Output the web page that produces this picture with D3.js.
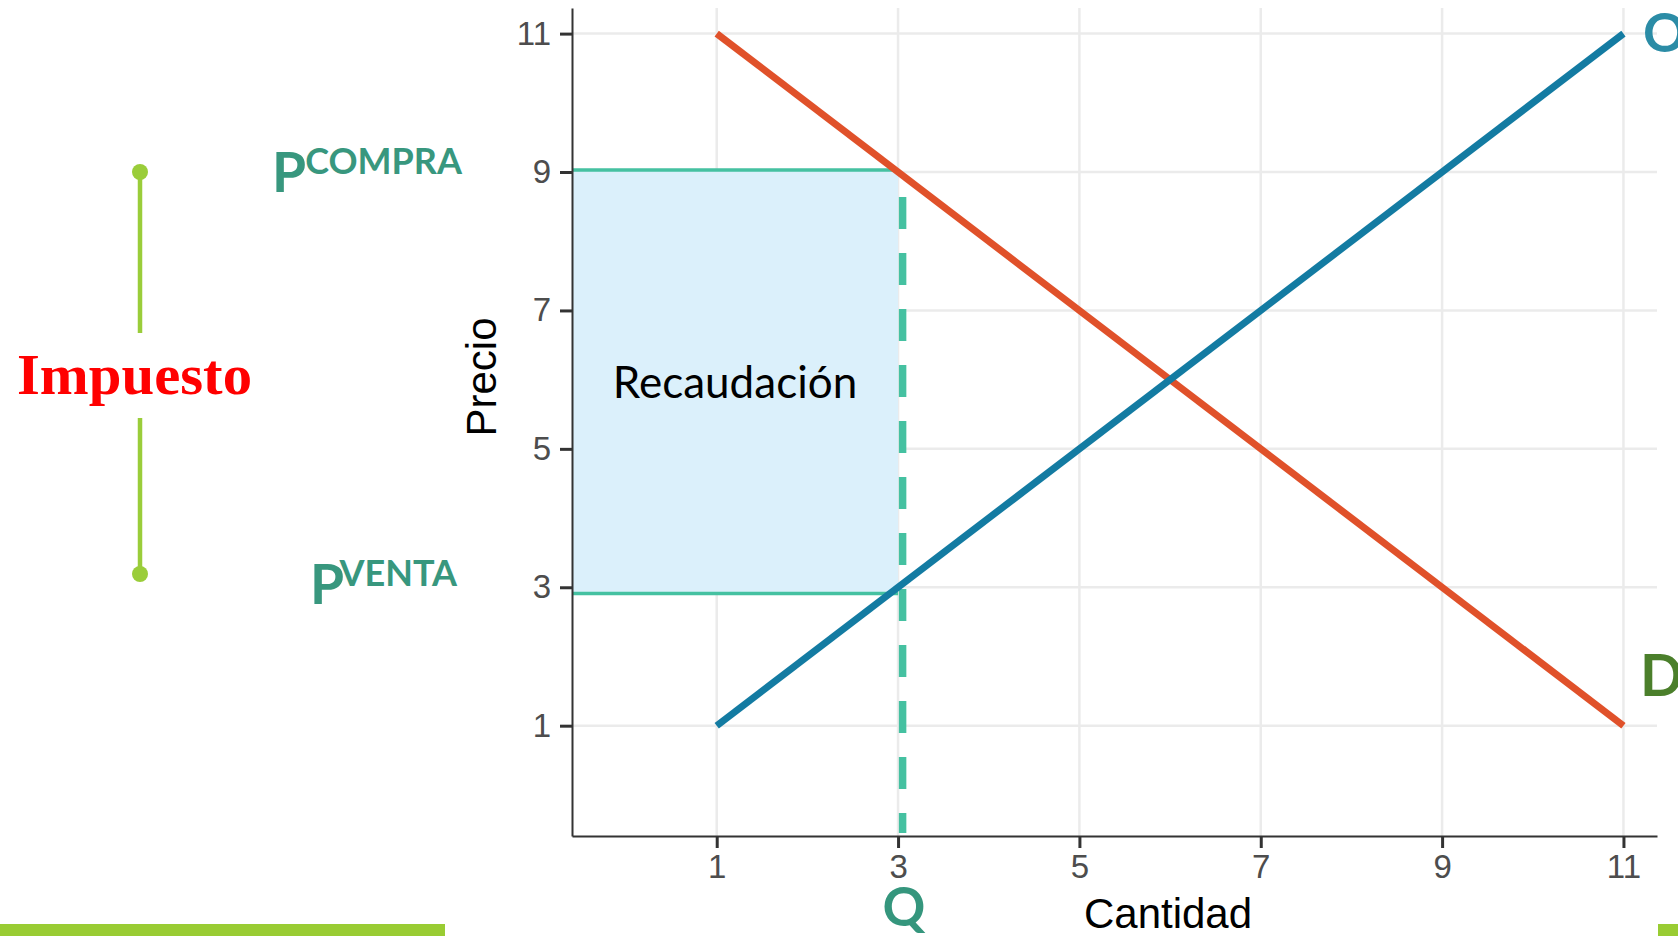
<!DOCTYPE html>
<html>
<head>
<meta charset="utf-8">
<script src="https://cdn.jsdelivr.net/npm/d3@7"></script>
<style>
  body { margin: 0; background: #fff; }
</style>
</head>
<body>
<div id="chart"></div>
<script>
// data
const quantities = [1, 11];
const demandPrices = [11, 1];
const supplyPrices = [1, 11];
const xTickValues = [1, 3, 5, 7, 9, 11];
const yTickValues = [1, 3, 5, 7, 9, 11];
const taxQuantity = [3];
const buyerPrice = [9.03];
const sellerPrice = [2.91];
const dashQuantity = [3.05];
const dashPrices = [8.64, -0.55];

var width = 1678;
var height = 936;

const svg = d3.select("#chart")
  .append("svg")
  .attr("width", width)
  .attr("height", height);

const x = d3.scaleLinear()
  .domain([-0.596, 11.37])
  .range([572, 1657]);

const y = d3.scaleLinear()
  .domain([-0.594, 11.37])
  .range([836, 8]);

// grid
svg.append("g")
  .selectAll("line")
  .data(xTickValues)
  .join("line")
  .attr("x1", d => x(d)).attr("x2", d => x(d))
  .attr("y1", y.range()[1]).attr("y2", y.range()[0])
  .attr("stroke", "#ebebeb")
  .attr("stroke-width", 2.5);

svg.append("g")
  .selectAll("line")
  .data(yTickValues)
  .join("line")
  .attr("y1", d => y(d)).attr("y2", d => y(d))
  .attr("x1", x.range()[0]).attr("x2", x.range()[1])
  .attr("stroke", "#ebebeb")
  .attr("stroke-width", 2.5);

// recaudacion box
svg.append("rect")
  .attr("x", x.range()[0])
  .attr("y", y(buyerPrice[0]))
  .attr("width", x(taxQuantity[0]) - x.range()[0])
  .attr("height", y(sellerPrice[0]) - y(buyerPrice[0]))
  .attr("fill", "#dbf0fb");

svg.append("g")
  .selectAll("line")
  .data([buyerPrice[0], sellerPrice[0]])
  .join("line")
  .attr("x1", x.range()[0])
  .attr("x2", x(taxQuantity[0]))
  .attr("y1", d => y(d))
  .attr("y2", d => y(d))
  .attr("stroke", "#45c1a1")
  .attr("stroke-width", 3.5);

svg.append("text")
  .attr("x", (x.range()[0] + x(taxQuantity[0])) / 2)
  .attr("y", (y(buyerPrice[0]) + y(sellerPrice[0])) / 2 + 16)
  .attr("text-anchor", "middle")
  .attr("font-family", "Lato, 'Open Sans', sans-serif")
  .attr("font-size", 44)
  .attr("fill", "#000")
  .text("Recaudación");

// dashed quantity line
svg.append("line")
  .attr("x1", x(dashQuantity[0]))
  .attr("x2", x(dashQuantity[0]))
  .attr("y1", y(dashPrices[0]))
  .attr("y2", y(dashPrices[1]))
  .attr("stroke", "#45c1a1")
  .attr("stroke-width", 7.5)
  .attr("stroke-dasharray", "32,24");

// demand and supply
const line = d3.line()
  .x(d => x(d[0]))
  .y(d => y(d[1]));

svg.append("path")
  .datum(d3.zip(quantities, demandPrices))
  .attr("d", line)
  .attr("fill", "none")
  .attr("stroke", "#e0512a")
  .attr("stroke-width", 7);

svg.append("path")
  .datum(d3.zip(quantities, supplyPrices))
  .attr("d", line)
  .attr("fill", "none")
  .attr("stroke", "#137ba2")
  .attr("stroke-width", 7);

// axes
const xAxis = svg.append("g")
  .attr("transform", `translate(0, ${y.range()[0]})`)
  .call(d3.axisBottom(x).tickValues(xTickValues).tickSize(12).tickSizeOuter(0).tickPadding(7));

const yAxis = svg.append("g")
  .attr("transform", `translate(${x.range()[0]}, 0)`)
  .call(d3.axisLeft(y).tickValues(yTickValues).tickSize(12).tickSizeOuter(0).tickPadding(9));

[xAxis, yAxis].forEach(function(ax) {
  ax.select(".domain").attr("stroke", "#333").attr("stroke-width", 2);
  ax.selectAll(".tick line").attr("stroke", "#333").attr("stroke-width", 3);
  ax.selectAll(".tick text")
    .attr("font-family", "'Liberation Sans', Arial, sans-serif")
    .attr("font-size", 33)
    .attr("fill", "#4d4d4d");
});

// axis titles
svg.append("text")
  .attr("transform", "translate(496, 377) rotate(-90)")
  .attr("text-anchor", "middle")
  .attr("font-family", "'Liberation Sans', Arial, sans-serif")
  .attr("font-size", 42)
  .attr("fill", "#000")
  .text("Precio");

svg.append("text")
  .attr("x", 1168)
  .attr("y", 928)
  .attr("text-anchor", "middle")
  .attr("font-family", "'Liberation Sans', Arial, sans-serif")
  .attr("font-size", 42)
  .attr("fill", "#000")
  .text("Cantidad");

// curve labels
const bold = "Lato, 'Open Sans', sans-serif";

svg.append("text")
  .attr("x", 1643).attr("y", 52)
  .attr("font-family", bold).attr("font-weight", 700)
  .attr("font-size", 54).attr("fill", "#2b8ca6")
  .text("O");

svg.append("text")
  .attr("x", 1640).attr("y", 696)
  .attr("font-family", bold).attr("font-weight", 700)
  .attr("font-size", 57).attr("fill", "#4b7f2b")
  .text("D");

svg.append("text")
  .attr("x", 904).attr("y", 926)
  .attr("text-anchor", "middle")
  .attr("font-family", bold).attr("font-weight", 700)
  .attr("font-size", 53).attr("fill", "#35967d")
  .text("Q");

// price labels
function priceLabel(px, pBase, sup, supBase, supEnd) {
  svg.append("text")
    .attr("x", px).attr("y", pBase)
    .attr("font-family", bold).attr("font-weight", 700)
    .attr("font-size", 55).attr("fill", "#38977e")
    .text("P");
  svg.append("text")
    .attr("x", supEnd).attr("y", supBase)
    .attr("text-anchor", "end")
    .attr("font-family", bold).attr("font-weight", 700)
    .attr("font-size", 36).attr("fill", "#38977e")
    .text(sup);
}
priceLabel(272, 192, "COMPRA", 174, 462);
priceLabel(310, 604, "VENTA", 586, 457);

// impuesto bracket
const bracket = svg.append("g");
bracket.append("line")
  .attr("x1", 140).attr("x2", 140).attr("y1", 172).attr("y2", 333)
  .attr("stroke", "#9acd3a").attr("stroke-width", 4.5);
bracket.append("line")
  .attr("x1", 140).attr("x2", 140).attr("y1", 418).attr("y2", 574)
  .attr("stroke", "#9acd3a").attr("stroke-width", 4.5);
bracket.selectAll("circle")
  .data([172, 574])
  .join("circle")
  .attr("cx", 140).attr("cy", d => d).attr("r", 8)
  .attr("fill", "#9acd3a");

svg.append("text")
  .attr("x", 17).attr("y", 394)
  .attr("font-family", "'Liberation Serif', 'DejaVu Serif', serif")
  .attr("font-weight", 700)
  .attr("font-size", 57)
  .attr("textLength", 235)
  .attr("lengthAdjust", "spacingAndGlyphs")
  .attr("fill", "#ff0000")
  .text("Impuesto");

// slide footer bars
svg.append("rect")
  .attr("x", 0).attr("y", 924).attr("width", 445).attr("height", 12)
  .attr("fill", "#99cc33");
svg.append("rect")
  .attr("x", 1658).attr("y", 924).attr("width", 20).attr("height", 12)
  .attr("fill", "#99cc33");
</script>
</body>
</html>
